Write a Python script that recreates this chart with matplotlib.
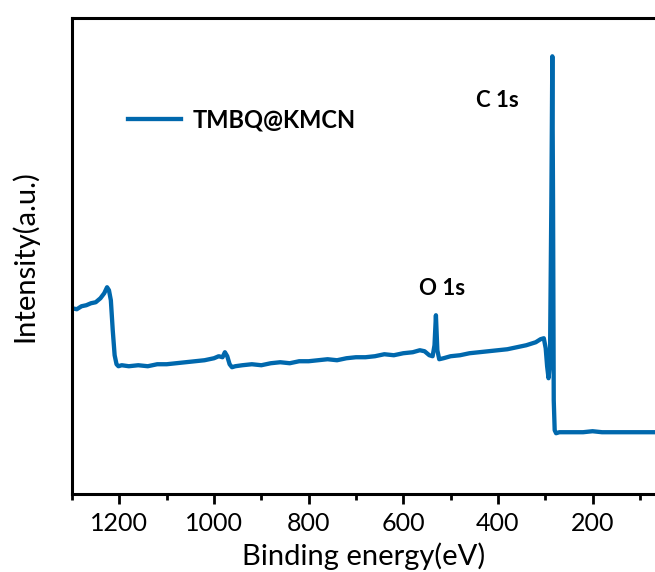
import matplotlib.pyplot as plt
from matplotlib.ticker import MultipleLocator

# XPS survey spectrum (arbitrary intensity units)
energy = [1300, 1290, 1280, 1270, 1260, 1250, 1240, 1232, 1226, 1222, 1218, 1214,
          1210, 1206, 1202, 1195, 1180, 1160, 1140, 1120, 1100, 1080, 1060, 1040,
          1020, 1000, 990, 982, 977, 972, 967, 962, 955, 940, 920, 900, 880, 860,
          840, 820, 800, 780, 760, 740, 720, 700, 680, 660, 640, 620, 600, 580,
          565, 555, 545, 538, 534, 531, 528, 524, 515, 500, 480, 460, 440, 420,
          400, 380, 360, 340, 320, 310, 303, 299, 296, 293, 290, 287, 285, 283.5,
          282, 280, 277, 270, 250, 220, 200, 180, 150, 120, 100, 68]
intensity = [184, 183, 186, 187, 189, 190, 194, 199, 205, 202, 192, 162,
             137, 128, 126, 127, 126, 127, 126, 128, 128, 129, 130, 131,
             132, 134, 136, 135, 140, 136, 128, 125, 126, 127, 128, 127, 129, 130,
             129, 131, 131, 132, 133, 132, 134, 135, 135, 136, 138, 137, 139, 140,
             142, 141, 137, 136, 147, 177, 142, 133, 134, 136, 137, 139, 140, 141,
             142, 143, 145, 147, 150, 153, 154, 144, 126, 114, 130, 292, 436, 292,
             92, 62, 59, 60, 60, 60, 61, 60, 60, 60, 60, 60]

sample_name = 'TMBQ@KMCN'
peak_labels = ['C 1s', 'O 1s']
peak_label_x = [401, 519]
peak_label_y = [392, 204]

plt.rcParams['font.family'] = ['Lato', 'DejaVu Sans']

fig = plt.figure(figsize=(6.55, 5.72), dpi=100)
ax = fig.add_axes([0.110, 0.136, 0.890, 0.832])

ax.plot(energy, intensity, color='#0068ad', linewidth=3.1, label=sample_name)

for txt, x, y in zip(peak_labels, peak_label_x, peak_label_y):
    ax.text(x, y, txt, ha='center', va='center', fontsize=16, fontweight='bold')

ax.set_xlim(1300, 68)
ax.set_ylim(-2, 474)
ax.xaxis.set_major_locator(MultipleLocator(200))
ax.xaxis.set_minor_locator(MultipleLocator(100))
ax.set_yticks([])

ax.tick_params(axis='x', which='major', direction='out', length=7, width=2,
               labelsize=18, pad=6)
ax.tick_params(axis='x', which='minor', direction='out', length=4, width=2)
for side in ['left', 'bottom', 'top']:
    ax.spines[side].set_linewidth(2.2)
ax.spines['right'].set_visible(False)

ax.set_xlabel('Binding energy(eV)', fontsize=21, labelpad=5)
ax.set_ylabel('Intensity(a.u.)', fontsize=21, labelpad=24)

ax.legend(loc='center left', bbox_to_anchor=(0.096, 0.786), frameon=False,
          borderpad=0, borderaxespad=0,
          handlelength=2.25, handletextpad=0.47,
          prop={'weight': 'bold', 'size': 17})

fig.savefig('out.png', dpi=100)
